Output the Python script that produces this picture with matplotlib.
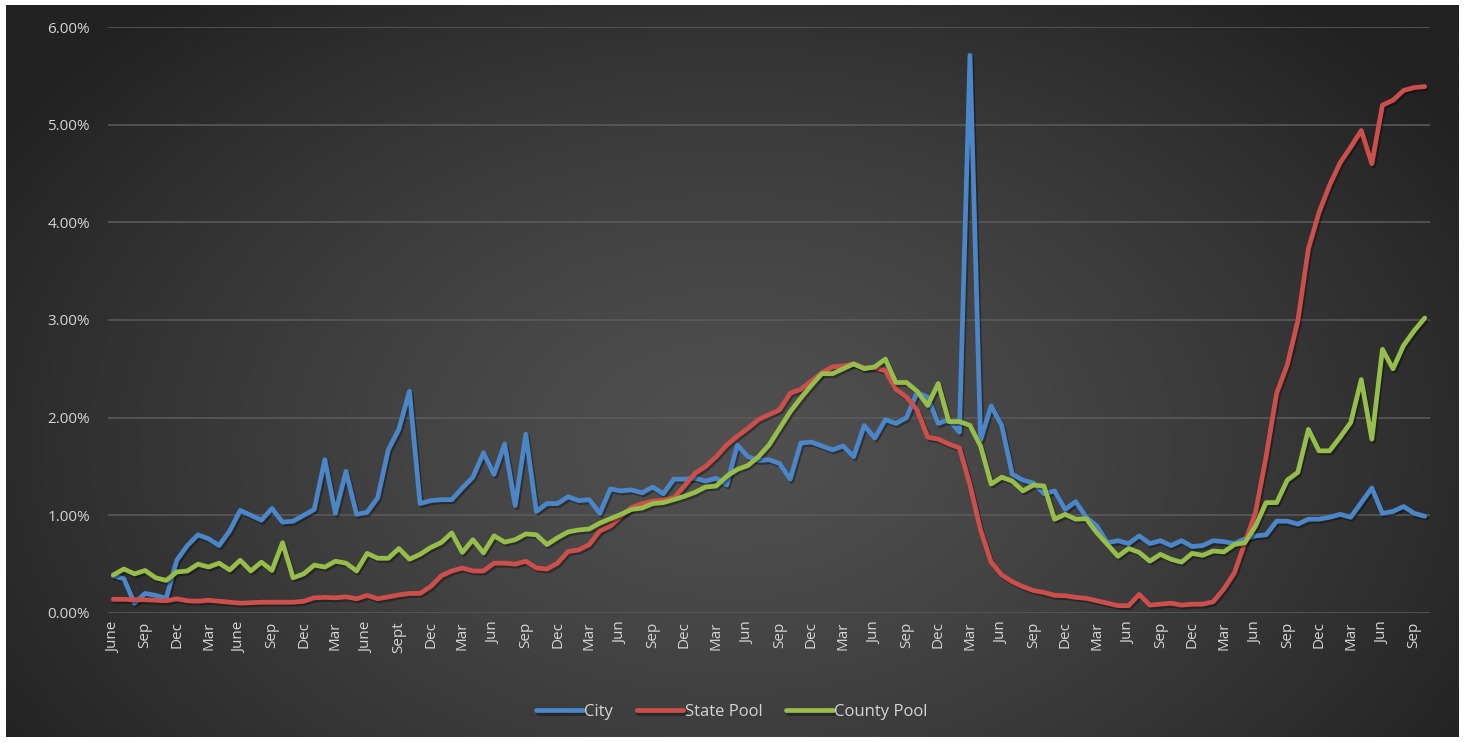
import numpy as np
import matplotlib
matplotlib.use("Agg")
import matplotlib.pyplot as plt
import matplotlib.patheffects as pe
from matplotlib.ticker import FuncFormatter

plt.rcParams['font.family'] = ['Open Sans', 'DejaVu Sans']

# monthly values in percent, June (year 1) .. Oct (last year)
city = [0.38, 0.35, 0.10, 0.20, 0.18, 0.15, 0.54, 0.69, 0.80, 0.76,
        0.69, 0.84, 1.05, 1.00, 0.95, 1.07, 0.93, 0.94, 1.00, 1.06,
        1.57, 1.02, 1.45, 1.01, 1.03, 1.18, 1.67, 1.88, 2.27, 1.12,
        1.15, 1.16, 1.16, 1.28, 1.39, 1.64, 1.42, 1.73, 1.10, 1.83,
        1.04, 1.12, 1.12, 1.19, 1.15, 1.16, 1.02, 1.27, 1.25, 1.26,
        1.23, 1.29, 1.22, 1.37, 1.37, 1.38, 1.35, 1.38, 1.31, 1.72,
        1.60, 1.56, 1.57, 1.53, 1.37, 1.74, 1.75, 1.71, 1.67, 1.71,
        1.60, 1.92, 1.79, 1.98, 1.94, 2.00, 2.26, 2.21, 1.94, 1.98,
        1.85, 5.71, 1.77, 2.12, 1.92, 1.42, 1.36, 1.33, 1.22, 1.25,
        1.06, 1.14, 0.98, 0.89, 0.72, 0.74, 0.71, 0.79, 0.71, 0.74,
        0.69, 0.74, 0.68, 0.69, 0.74, 0.73, 0.71, 0.76, 0.79, 0.80,
        0.94, 0.94, 0.91, 0.96, 0.96, 0.98, 1.01, 0.98, 1.13, 1.28,
        1.02, 1.04, 1.09, 1.02, 0.99]

state_pool = [0.14, 0.14, 0.135, 0.135, 0.13, 0.125, 0.145, 0.125, 0.12, 0.13,
              0.12, 0.11, 0.10, 0.105, 0.11, 0.11, 0.11, 0.11, 0.12, 0.155,
              0.16, 0.155, 0.165, 0.145, 0.18, 0.145, 0.165, 0.185, 0.20, 0.20,
              0.27, 0.38, 0.43, 0.46, 0.43, 0.43, 0.51, 0.51, 0.50, 0.53,
              0.46, 0.45, 0.51, 0.63, 0.645, 0.70, 0.84, 0.89, 0.99, 1.08,
              1.12, 1.145, 1.155, 1.18, 1.30, 1.43, 1.50, 1.60, 1.72, 1.81,
              1.89, 1.98, 2.03, 2.08, 2.25, 2.29, 2.375, 2.46, 2.52, 2.53,
              2.55, 2.51, 2.51, 2.48, 2.29, 2.21, 2.08, 1.80, 1.78, 1.73,
              1.69, 1.31, 0.85, 0.52, 0.39, 0.32, 0.27, 0.23, 0.21, 0.18,
              0.177, 0.16, 0.15, 0.125, 0.10, 0.075, 0.075, 0.19, 0.08, 0.09,
              0.10, 0.08, 0.09, 0.09, 0.115, 0.245, 0.41, 0.72, 1.03, 1.60,
              2.25, 2.54, 2.99, 3.73, 4.10, 4.38, 4.61, 4.77, 4.94, 4.60,
              5.20, 5.25, 5.35, 5.38, 5.39]

county_pool = [0.39, 0.45, 0.40, 0.435, 0.36, 0.333, 0.42, 0.43, 0.50, 0.47,
               0.51, 0.44, 0.54, 0.43, 0.52, 0.435, 0.72, 0.36, 0.40, 0.49,
               0.47, 0.53, 0.51, 0.43, 0.61, 0.56, 0.56, 0.66, 0.55, 0.60,
               0.67, 0.72, 0.82, 0.62, 0.75, 0.615, 0.79, 0.725, 0.75, 0.81,
               0.80, 0.70, 0.77, 0.83, 0.85, 0.86, 0.92, 0.965, 1.01, 1.06,
               1.075, 1.12, 1.13, 1.16, 1.195, 1.235, 1.29, 1.30, 1.40, 1.47,
               1.51, 1.60, 1.72, 1.89, 2.06, 2.20, 2.33, 2.45, 2.45, 2.50,
               2.55, 2.50, 2.52, 2.60, 2.36, 2.36, 2.27, 2.125, 2.35, 1.96,
               1.96, 1.92, 1.71, 1.32, 1.39, 1.35, 1.25, 1.31, 1.30, 0.96,
               1.01, 0.96, 0.965, 0.82, 0.70, 0.58, 0.66, 0.62, 0.53, 0.60,
               0.55, 0.52, 0.61, 0.59, 0.635, 0.625, 0.70, 0.72, 0.89, 1.13,
               1.13, 1.36, 1.44, 1.88, 1.66, 1.66, 1.80, 1.95, 2.39, 1.78,
               2.70, 2.50, 2.74, 2.89, 3.02]

# one label every third month
tick_labels = ['June', 'Sep', 'Dec', 'Mar', 'June', 'Sep', 'Dec', 'Mar',
               'June', 'Sept', 'Dec', 'Mar'] + ['Jun', 'Sep', 'Dec', 'Mar'] * 7 + ['Jun', 'Sep']

x = np.arange(len(city))

fig = plt.figure(figsize=(14.64, 7.42), dpi=100)
fig.patch.set_facecolor('white')

# dark radial gradient background
bg = fig.add_axes([0.004, 0.007, 0.992, 0.986])
gx, gy = np.meshgrid(np.linspace(0, 1, 600), np.linspace(0, 1, 300))
d = np.sqrt(((gx - 0.5) / 0.6) ** 2 + ((gy - 0.4) / 0.8) ** 2)
d = np.clip(d, 0, 1)
shade = (80 - 46 * d ** 1.3) / 255.0
bg.imshow(np.dstack([shade, shade, shade]), extent=[0, 1, 0, 1], origin='lower',
          aspect='auto', interpolation='bilinear')
bg.axis('off')

ax = fig.add_axes([0.0738, 0.1739, 0.9030, 0.7897])
ax.patch.set_alpha(0)

shadow = [pe.SimpleLineShadow(offset=(1.2, -1.5), alpha=0.35, shadow_color='black'), pe.Normal()]
ax.plot(x, city, color='#4a86c8', lw=3.4, label='City', solid_joinstyle='round',
        solid_capstyle='round', path_effects=shadow, zorder=3)
ax.plot(x, state_pool, color='#cd4f4c', lw=3.4, label='State Pool', solid_joinstyle='round',
        solid_capstyle='round', path_effects=shadow, zorder=3)
ax.plot(x, county_pool, color='#97be4b', lw=3.4, label='County Pool', solid_joinstyle='round',
        solid_capstyle='round', path_effects=shadow, zorder=3)

ax.set_xlim(-0.5, len(city) - 0.5)
ax.set_ylim(0, 6)
ax.set_yticks(np.arange(0, 7, 1))
ax.yaxis.set_major_formatter(FuncFormatter(lambda v, p: '%.2f%%' % v))
ax.set_xticks(x[::3])
ax.set_xticklabels(tick_labels, rotation=90)

ax.grid(axis='y', color='#5c5c5c', lw=1.1)
ax.set_axisbelow(True)
for s in ax.spines.values():
    s.set_visible(False)
ax.tick_params(axis='both', length=0, colors='#d4d4d4', labelsize=11)
ax.tick_params(axis='y', pad=13)
ax.tick_params(axis='x', pad=6)

leg = fig.legend(loc='center', bbox_to_anchor=(0.5, 0.04), ncol=3, frameon=False,
                 fontsize=12, handlelength=2.8, handletextpad=0.1, columnspacing=1.4)
for t in leg.get_texts():
    t.set_color('#d4d4d4')
for h in leg.get_lines():
    h.set_linewidth(3.4)
    h.set_solid_capstyle('round')

fig.savefig('out.png', dpi=100, facecolor=fig.get_facecolor())
